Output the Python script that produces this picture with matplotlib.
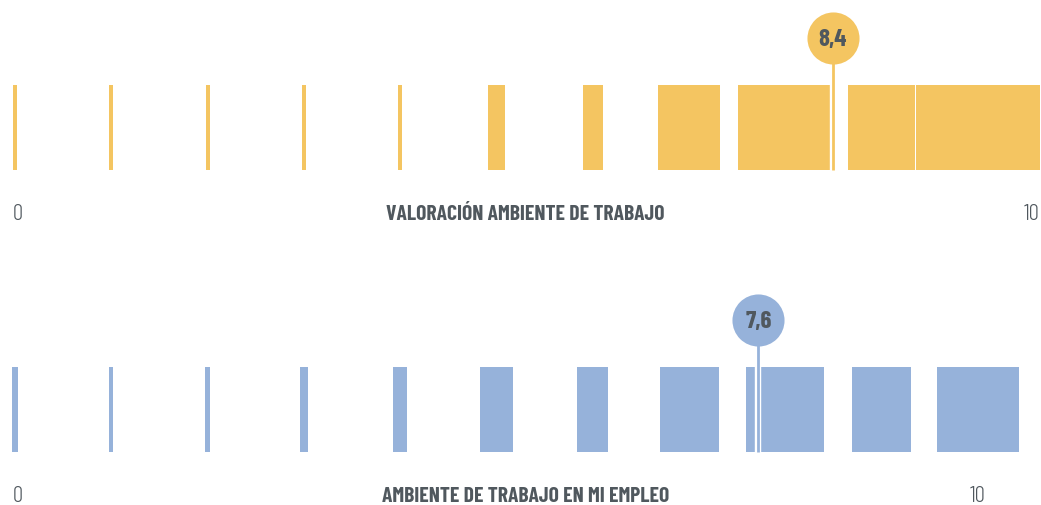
import matplotlib.pyplot as plt
import matplotlib.patheffects as pe

# puntuaciones 0..10 y porcentaje de respuestas (ancho de cada barra)
puntos = list(range(11))
pct_valoracion = [1, 1, 1, 1, 1, 4, 5, 15.5, 23.2, 16.5, 30.6]
pct_empleo = [1.5, 1, 1.2, 2, 3.5, 8.1, 7.7, 14.6, 19.3, 14.6, 20.2]
media_valoracion = 8.4
media_empleo = 7.6
etiqueta_valoracion = "8,4"
etiqueta_empleo = "7,6"
titulo_valoracion = "VALORACIÓN AMBIENTE DE TRABAJO"
titulo_empleo = "AMBIENTE DE TRABAJO EN MI EMPLEO"

AMARILLO = "#f4c561"
AZUL = "#96b2da"
GRIS = "#50585e"
PX = 96.3  # pixels per score unit
escala = 405 / 100 / PX  # pct -> score units

plt.rcParams['font.family'] = ['Barlow Condensed', 'Roboto Condensed', 'DejaVu Sans']

fig = plt.figure(figsize=(10.41, 5.06), dpi=100)
ax = fig.add_axes([0, 0, 1, 1])
ax.set_xlim(-15 / PX, (1041 - 15) / PX)
ax.set_ylim(506, 0)
ax.axis('off')


def tira(pct, media, pos_media, etiqueta, titulo, color, y0, x_diez):
    anchos = [max(p * escala, 4 / PX) for p in pct]
    ax.bar(puntos, 85, bottom=y0, width=anchos, color=color, linewidth=0)
    # marcador de la media
    ax.plot([pos_media, pos_media], [y0 - 25, y0 + 85], color=color, lw=2.0,
            solid_capstyle='butt', zorder=3,
            path_effects=[pe.Stroke(linewidth=4.6, foreground='white'), pe.Normal()])
    ax.plot([pos_media], [y0 - 47], 'o', ms=37.5, color=color, mec='none', zorder=4)
    ax.text(pos_media, y0 - 46, etiqueta, ha='center', va='center', fontsize=18,
            fontweight='bold', color=GRIS, zorder=5)
    ty = y0 + 129
    ax.text(-0.02, ty, "0", ha='left', va='center', fontsize=16.5, fontweight=300,
            color=GRIS)
    ax.text(5.3, ty, titulo, ha='center', va='center', fontsize=15.5,
            fontweight='bold', color=GRIS)
    ax.text(x_diez, ty, "10", ha='center', va='center', fontsize=16.5, fontweight=300,
            color=GRIS)


tira(pct_valoracion, media_valoracion, 8.49, etiqueta_valoracion, titulo_valoracion,
     AMARILLO, 86, 10.56)
tira(pct_empleo, media_empleo, 7.72, etiqueta_empleo, titulo_empleo,
     AZUL, 368, 10.0)

fig.savefig("out.png", dpi=100)
